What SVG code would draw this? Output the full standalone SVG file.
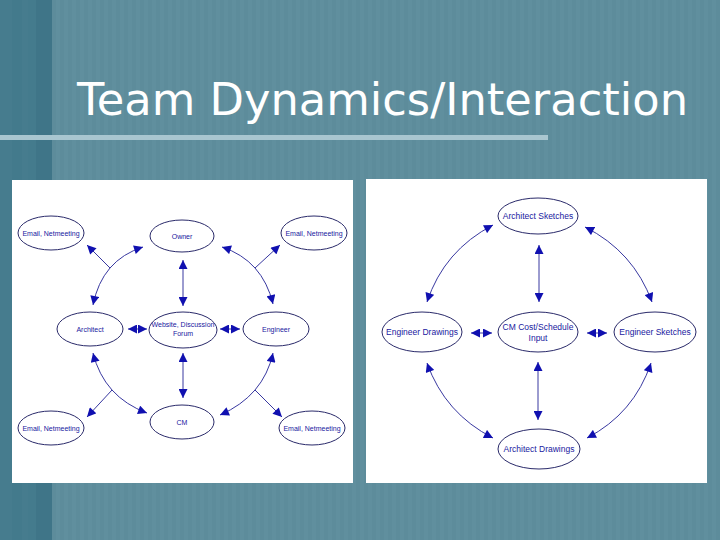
<svg xmlns="http://www.w3.org/2000/svg" width="720" height="540" viewBox="0 0 720 540">
<defs>
<marker id="ah" viewBox="0 0 10 10" refX="10" refY="5" markerUnits="userSpaceOnUse" markerWidth="10" markerHeight="9" orient="auto-start-reverse">
<path d="M0,0 L10,5 L0,10 z" fill="#1010b0"/>
</marker>
<pattern id="stripes" x="0" y="0" width="8" height="540" patternUnits="userSpaceOnUse">
<rect width="8" height="540" fill="#5d8c9b"/>
<rect width="4" height="540" fill="#608f9e"/>
</pattern>
</defs>
<style>
.nd ellipse{fill:#ffffff;stroke:#2a2a6a;stroke-width:1}
.nd text{font-family:"Liberation Sans",Arial,sans-serif;fill:#2020a0;text-anchor:middle}
.l text{font-size:7px}
.r text{font-size:8.5px}
.cn path{fill:none;stroke:#3838a0;stroke-width:1}
.ar{marker-start:url(#ah);marker-end:url(#ah)}
</style>
<rect width="720" height="540" fill="url(#stripes)"/>
<rect x="0" y="0" width="52" height="540" fill="#467c8e"/>
<rect x="12" y="0" width="10" height="540" fill="#437a8c"/>
<rect x="28" y="0" width="8" height="540" fill="#447b8d"/>
<rect x="36" y="0" width="16" height="540" fill="#3f7588"/>
<rect x="0" y="135" width="548" height="5" fill="#a9c6d0"/>
<text x="77" y="115" font-family="DejaVu Sans,Verdana,sans-serif" font-size="44" fill="#ffffff" textLength="611" lengthAdjust="spacingAndGlyphs">Team Dynamics/Interaction</text>
<rect x="12" y="180" width="341" height="303" fill="#ffffff"/>
<rect x="366" y="179" width="341" height="304" fill="#ffffff"/>
<g id="connectors" class="cn">
<path class="ar" d="M183,260 L183,306"/>
<path class="ar" d="M183,353 L183,398"/>
<path class="ar" d="M128,329 L147,329"/>
<path class="ar" d="M220,329 L240,329"/>
<path class="ar" d="M93,305 Q102,260 143,247"/>
<path class="ar" d="M222,247 Q262.5,260.5 273,304"/>
<path class="ar" d="M93,353 Q104,397 147,413"/>
<path class="ar" d="M273,353 Q263.5,396 220,415"/>
<path marker-end="url(#ah)" d="M110,268 L87,245"/>
<path marker-end="url(#ah)" d="M255,268 L280,245"/>
<path marker-end="url(#ah)" d="M112,390 L87,417"/>
<path marker-end="url(#ah)" d="M255,390 L282,417"/>
<path class="ar" d="M539,245 L539,302"/>
<path class="ar" d="M538,362 L538,420"/>
<path class="ar" d="M471,333 L492,333"/>
<path class="ar" d="M587,333 L607,333"/>
<path class="ar" d="M427,302 Q444,250.5 493,225"/>
<path class="ar" d="M585,227 Q633.5,251.5 652,302"/>
<path class="ar" d="M427,363 Q445,413.5 493,438"/>
<path class="ar" d="M651,363 Q634,413.5 587,438"/>
</g>
<g id="email-tl" class="nd l"><ellipse cx="51" cy="233" rx="33" ry="17"/><text x="51" y="235.5">Email, Netmeeting</text></g>
<g id="owner" class="nd l"><ellipse cx="182" cy="236" rx="32" ry="16"/><text x="182" y="238.5">Owner</text></g>
<g id="email-tr" class="nd l"><ellipse cx="314" cy="233" rx="33" ry="17"/><text x="314" y="235.5">Email, Netmeeting</text></g>
<g id="architect" class="nd l"><ellipse cx="90" cy="329" rx="33" ry="17"/><text x="90" y="331.5">Architect</text></g>
<g id="website" class="nd l"><ellipse cx="183" cy="330" rx="34" ry="18"/><text x="183" y="327">Website, Discussion</text><text x="183" y="336">Forum</text></g>
<g id="engineer" class="nd l"><ellipse cx="276" cy="329" rx="33" ry="17"/><text x="276" y="331.5">Engineer</text></g>
<g id="cm" class="nd l"><ellipse cx="182" cy="422" rx="32" ry="17"/><text x="182" y="424.5">CM</text></g>
<g id="email-bl" class="nd l"><ellipse cx="51" cy="428" rx="33" ry="17"/><text x="51" y="430.5">Email, Netmeeting</text></g>
<g id="email-br" class="nd l"><ellipse cx="312" cy="428" rx="33" ry="17"/><text x="312" y="430.5">Email, Netmeeting</text></g>
<g id="arch-sketches" class="nd r"><ellipse cx="538" cy="216" rx="40" ry="18"/><text x="538" y="219">Architect Sketches</text></g>
<g id="eng-drawings" class="nd r"><ellipse cx="422" cy="332" rx="40" ry="20"/><text x="422" y="335">Engineer Drawings</text></g>
<g id="cm-input" class="nd r"><ellipse cx="538" cy="332" rx="40" ry="20"/><text x="538" y="330">CM Cost/Schedule</text><text x="538" y="341">Input</text></g>
<g id="eng-sketches" class="nd r"><ellipse cx="655" cy="332" rx="41" ry="20"/><text x="655" y="335">Engineer Sketches</text></g>
<g id="arch-drawings" class="nd r"><ellipse cx="539" cy="449" rx="41" ry="20"/><text x="539" y="452">Architect Drawings</text></g>
</svg>
